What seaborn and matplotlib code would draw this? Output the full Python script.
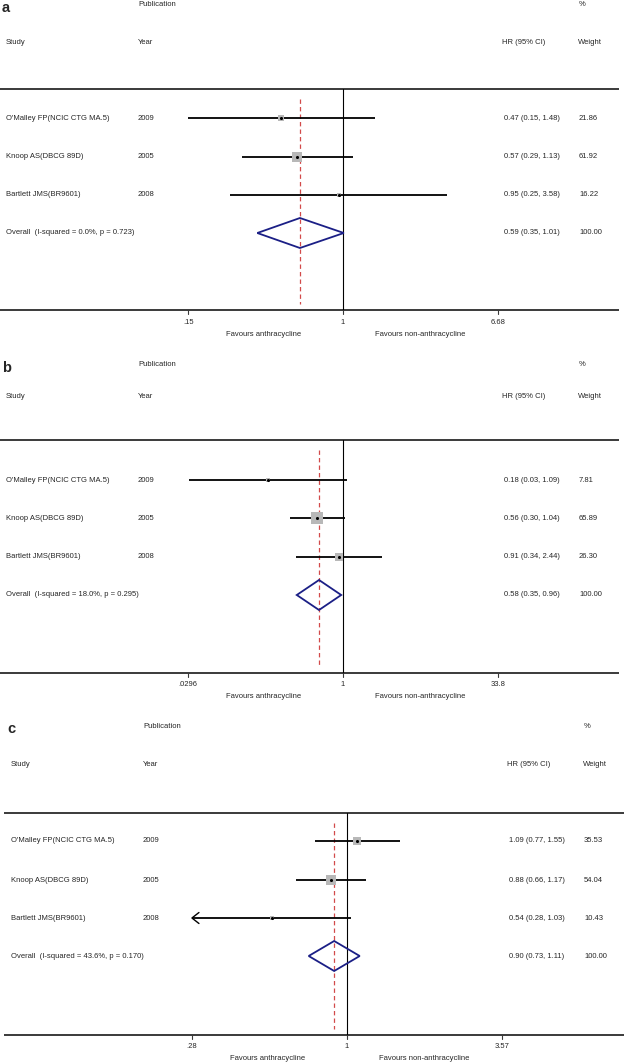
import numpy as np
import pandas as pd
import matplotlib
matplotlib.use("Agg")
import matplotlib.pyplot as plt
import seaborn as sns
from matplotlib import transforms
from matplotlib.patches import Polygon

# ---------------- data ----------------
studies = ["O'Malley FP(NCIC CTG MA.5)", "Knoop AS(DBCG 89D)", "Bartlett JMS(BR9601)"]
years = ["2009", "2005", "2008"]

hr_a = [0.47, 0.57, 0.95]
lo_a = [0.15, 0.29, 0.25]
hi_a = [1.48, 1.13, 3.58]
w_a = [21.86, 61.92, 16.22]
clipped_a = [False, False, False]
pooled_a = [0.59, 0.35, 1.01]
overall_a = "Overall  (I-squared = 0.0%, p = 0.723)"
ticks_a = [0.15, 1, 6.68]
ticklabels_a = [".15", "1", "6.68"]

hr_b = [0.18, 0.56, 0.91]
lo_b = [0.03, 0.30, 0.34]
hi_b = [1.09, 1.04, 2.44]
w_b = [7.81, 65.89, 26.30]
clipped_b = [False, False, False]
pooled_b = [0.58, 0.35, 0.96]
overall_b = "Overall  (I-squared = 18.0%, p = 0.295)"
ticks_b = [0.0296, 1, 33.8]
ticklabels_b = [".0296", "1", "33.8"]

hr_c = [1.09, 0.88, 0.54]
lo_c = [0.77, 0.66, 0.28]
hi_c = [1.55, 1.17, 1.03]
w_c = [35.53, 54.04, 10.43]
clipped_c = [False, False, True]
pooled_c = [0.90, 0.73, 1.11]
overall_c = "Overall  (I-squared = 43.6%, p = 0.170)"
ticks_c = [0.28, 1, 3.57]
ticklabels_c = [".28", "1", "3.57"]

panel_letters = ["a", "b", "c"]

# ---------------- style / layout ----------------
sns.set_style("white")
plt.rcParams['font.family'] = ['Liberation Sans', 'DejaVu Sans']

W, H = 628, 1063
fig = plt.figure(figsize=(W / 100, H / 100), dpi=100)

FS = 5.5
panels = [
    dict(hr=hr_a, lo=lo_a, hi=hi_a, w=w_a, clip=clipped_a, pooled=pooled_a, overall=overall_a,
         ticks=ticks_a, ticklabels=ticklabels_a, dx=0, one_x=343,
         letter_y=8, pub_y=5, study_y=42, header_y=89, rows=[118, 157, 195], ov_y=233,
         axis_y=310, tl_y=323, fav_y=334, box_k=1.15),
    dict(hr=hr_b, lo=lo_b, hi=hi_b, w=w_b, clip=clipped_b, pooled=pooled_b, overall=overall_b,
         ticks=ticks_b, ticklabels=ticklabels_b, dx=0, one_x=343,
         letter_y=368, pub_y=365, study_y=397, header_y=440, rows=[480, 518, 557], ov_y=595,
         axis_y=673, tl_y=685, fav_y=696, box_k=1.6),
    dict(hr=hr_c, lo=lo_c, hi=hi_c, w=w_c, clip=clipped_c, pooled=pooled_c, overall=overall_c,
         ticks=ticks_c, ticklabels=ticklabels_c, dx=5, one_x=347,
         letter_y=729, pub_y=727, study_y=765, header_y=813, rows=[841, 880, 918], ov_y=956,
         axis_y=1035, tl_y=1047, fav_y=1058, box_k=1.36),
]

for letter, P in zip(panel_letters, panels):
    ax = fig.add_axes([0, 0, 1, 1], facecolor="none")
    t = P["ticks"][-1]
    ppl = 155.0 / np.log(t)  # pixels per ln unit
    xmin = np.exp(-P["one_x"] / ppl)
    xmax = np.exp((W - P["one_x"]) / ppl)
    ax.set_xscale("log")
    ax.set_xlim(xmin, xmax)
    ax.set_ylim(H, 0)
    ax.axis("off")
    tr = transforms.blended_transform_factory(ax.transAxes, ax.transData)
    dx = P["dx"]

    def fx(px):
        return (px + dx) / W

    # panel letter
    ax.text(fx(2), P["letter_y"], letter, transform=tr, fontsize=10.5, fontweight="bold",
            va="center", ha="left")
    # headers
    ax.text(fx(138), P["pub_y"], "Publication", transform=tr, fontsize=FS, va="center")
    ax.text(fx(138), P["study_y"], "Year", transform=tr, fontsize=FS, va="center")
    ax.text(fx(6), P["study_y"], "Study", transform=tr, fontsize=FS, va="center")
    ax.text(fx(502), P["study_y"], "HR (95% CI)", transform=tr, fontsize=FS, va="center")
    ax.text(fx(579), P["pub_y"], "%", transform=tr, fontsize=FS, va="center")
    ax.text(fx(578), P["study_y"], "Weight", transform=tr, fontsize=FS, va="center")

    # horizontal rules
    ax.plot([fx(-1), fx(619)], [P["header_y"]] * 2, transform=tr, color="#3a3a3a", lw=1.4,
            solid_capstyle="butt")
    ax.plot([fx(-1), fx(619)], [P["axis_y"]] * 2, transform=tr, color="#3a3a3a", lw=1.4,
            solid_capstyle="butt")

    # null line and pooled dashed line
    ax.plot([1, 1], [P["header_y"], P["axis_y"]], color="black", lw=0.8)
    ax.plot([P["pooled"][0]] * 2, [P["header_y"] + 10, P["axis_y"] - 6], color="#d24a4a",
            lw=0.9, dashes=(3.5, 2.5))

    # study rows
    df = pd.DataFrame(dict(hr=P["hr"], lo=P["lo"], hi=P["hi"], w=P["w"], y=P["rows"],
                           trunc=P["clip"]))
    for i, r in df.iterrows():
        ax.plot([r["lo"], r["hi"]], [r["y"], r["y"]], color="black", lw=1.3,
                solid_capstyle="butt", zorder=2)
        if bool(r["trunc"]):
            # open arrow head at truncated end
            xs = np.exp(np.log(r["lo"]) + np.array([7, 0, 7]) / ppl)
            ax.plot(xs, [r["y"] - 5.5, r["y"], r["y"] + 5.5], color="black", lw=1.0, zorder=2)
        side = P["box_k"] * np.sqrt(r["w"]) * 0.72
        ax.scatter([r["hr"]], [r["y"]], s=side ** 2, marker="s", color="#b8b8b8",
                   linewidths=0, zorder=3)
        ax.text(fx(6), r["y"], studies[i], transform=tr, fontsize=FS, va="center")
        ax.text(fx(138), r["y"], years[i], transform=tr, fontsize=FS, va="center")
        ax.text(fx(504), r["y"], f"{r['hr']:.2f} ({r['lo']:.2f}, {r['hi']:.2f})",
                transform=tr, fontsize=FS, va="center")
        ax.text(fx(579), r["y"], f"{r['w']:.2f}", transform=tr, fontsize=FS, va="center")
    sns.scatterplot(data=df, x="hr", y="y", ax=ax, color="black", marker="o", s=5,
                    linewidth=0, zorder=4, legend=False)
    ax.set_xlabel("")
    ax.set_ylabel("")

    # overall diamond
    phr, plo, phi = P["pooled"]
    yv = P["ov_y"]
    dh = 15
    diamond = Polygon([(plo, yv), (phr, yv - dh), (phi, yv), (phr, yv + dh)], closed=True,
                      fill=False, edgecolor="#1b1f86", lw=1.3, zorder=3)
    ax.add_patch(diamond)
    ax.text(fx(6), yv, P["overall"], transform=tr, fontsize=FS, va="center")
    ax.text(fx(504), yv, f"{phr:.2f} ({plo:.2f}, {phi:.2f})", transform=tr, fontsize=FS,
            va="center")
    ax.text(fx(579), yv, "100.00", transform=tr, fontsize=FS, va="center")

    # x axis ticks and labels
    for tv, tl in zip(P["ticks"], P["ticklabels"]):
        ax.plot([tv, tv], [P["axis_y"], P["axis_y"] + 4], color="#3a3a3a", lw=0.8)
        ax.text(tv, P["tl_y"], tl, fontsize=FS, ha="center", va="center")
    ax.text(np.exp(-79 / ppl), P["fav_y"], "Favours anthracycline", fontsize=FS,
            ha="center", va="center")
    ax.text(np.exp(77 / ppl), P["fav_y"], "Favours non-anthracycline", fontsize=FS,
            ha="center", va="center")

fig.savefig("out.png", dpi=100)
